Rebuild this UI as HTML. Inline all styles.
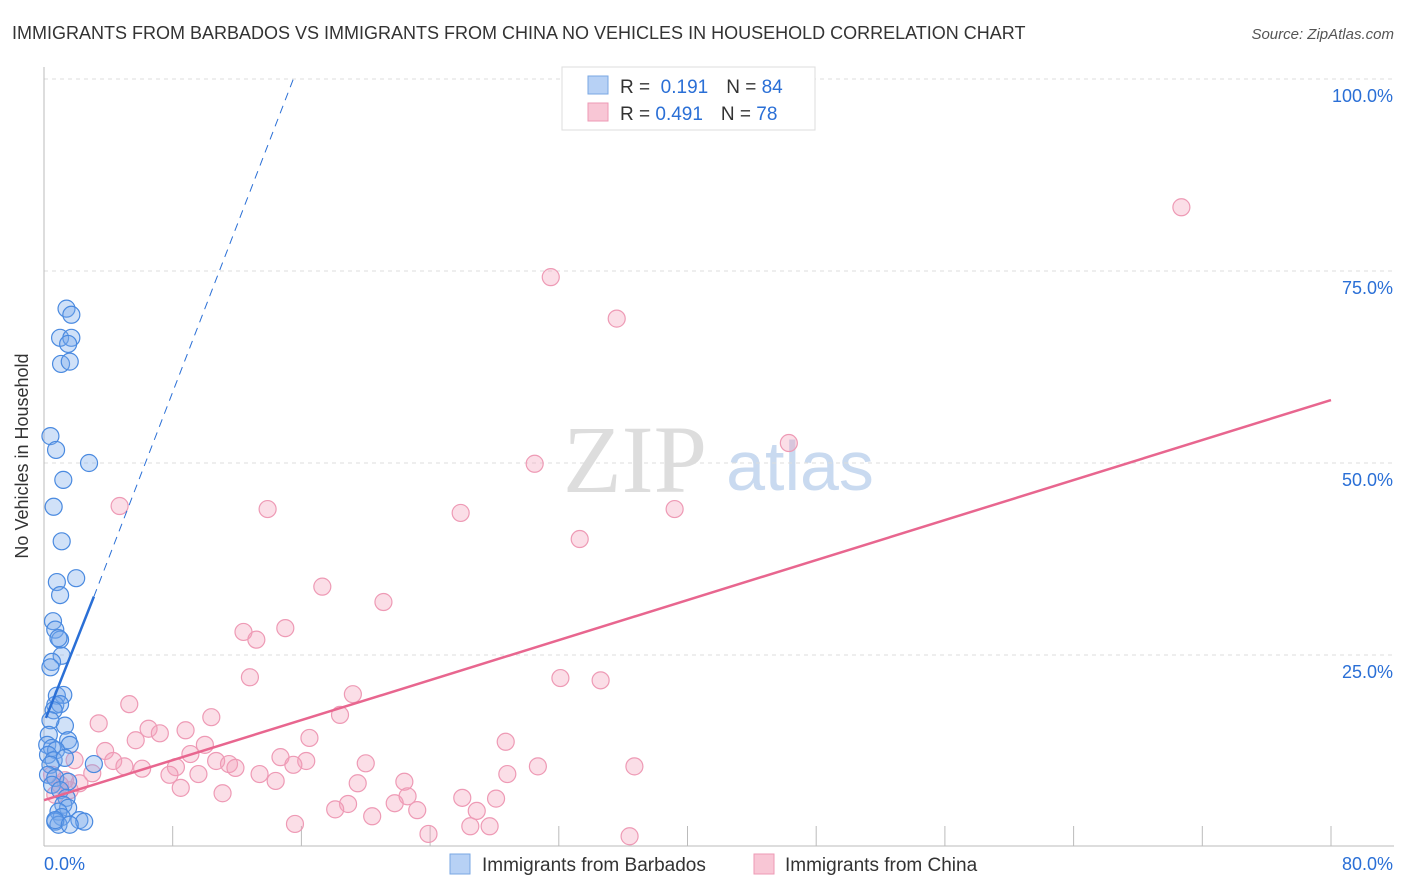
<!DOCTYPE html>
<html><head><meta charset="utf-8"><style>
body{margin:0;background:#fff;font-family:"Liberation Sans",sans-serif;}
svg{display:block}
</style></head><body>
<svg id="chart" width="1406" height="892" xmlns="http://www.w3.org/2000/svg">
<text x="12" y="39" font-size="18" fill="#333">IMMIGRANTS FROM BARBADOS VS IMMIGRANTS FROM CHINA NO VEHICLES IN HOUSEHOLD CORRELATION CHART</text>
<text x="1394" y="39" font-size="15" fill="#555" font-style="italic" text-anchor="end">Source: ZipAtlas.com</text>
<text x="28" y="456" font-size="18" fill="#333" text-anchor="middle" transform="rotate(-90 28 456)">No Vehicles in Household</text>
<g>
<text x="635" y="492" font-size="96" fill="#ddd" font-family="Liberation Serif" text-anchor="middle">ZIP</text>
<text x="800" y="490" font-size="70" fill="#c9daf0" text-anchor="middle">atlas</text>
</g>
<g id="grid"></g><g id="axes"></g><g id="pts"></g><g id="lines"></g>
<g>
<rect x="562" y="67" width="253" height="63" fill="#fff" stroke="#ddd"/>
<rect x="588" y="76" width="20" height="18" fill="#b7d1f5" stroke="#7aa7e3"/>
<rect x="588" y="103" width="20" height="18" fill="#f8c6d5" stroke="#ee9ab5"/>
<text x="620" y="93" font-size="19" fill="#333">R = <tspan fill="#2a6fd6">&#160;0.191</tspan><tspan dx="18">N = </tspan><tspan fill="#2a6fd6">84</tspan></text>
<text x="620" y="120" font-size="19" fill="#333">R = <tspan fill="#2a6fd6">0.491</tspan><tspan dx="18">N = </tspan><tspan fill="#2a6fd6">78</tspan></text>
</g>
<g>
<rect x="450" y="854" width="20" height="20" fill="#b7d1f5" stroke="#7aa7e3"/>
<text x="482" y="871" font-size="19" fill="#333">Immigrants from Barbados</text>
<rect x="754" y="854" width="20" height="20" fill="#f8c6d5" stroke="#ee9ab5"/>
<text x="785" y="871" font-size="19" fill="#333">Immigrants from China</text>
</g>
</svg>
<script>
const yTicks=[25,50,75,100];
const yTickLabels=["25.0%","50.0%","75.0%","100.0%"];
const xTicks=[8,16,24,32,40,48,56,64,72,80];
const barbadosX=[1.4,1.7,1.0,1.7,1.5,1.06,1.6,0.4,0.75,2.8,1.2,0.6,1.1,0.8,2.0,1.0,0.56,0.7,1.0,0.9,1.1,0.5,0.4,0.8,1.2,0.7,1.0,0.6,1.3,0.4,0.3,1.5,1.6,0.2,0.5,0.75,0.25,0.6,1.3,3.1,0.4,0.25,0.7,1.5,0.5,1.0,1.4,1.2,1.5,0.9,1.1,0.7,0.9,2.2,2.5,0.7,1.6];
const barbadosY=[70.1,69.3,66.3,66.3,65.5,62.9,63.2,53.5,51.7,50.0,47.8,44.3,39.8,34.5,35.0,32.8,29.4,28.3,27.0,27.2,24.9,24.1,23.4,19.7,19.8,18.5,18.6,17.8,15.8,16.5,14.6,13.9,13.3,13.3,12.9,12.6,12.0,11.3,11.6,10.8,10.7,9.4,9.0,8.5,8.1,7.4,6.4,5.5,5.1,4.6,3.9,3.3,2.9,3.5,3.3,3.5,2.9];
const chinaX=[70.7,31.5,35.6,46.3,30.5,39.2,25.9,33.3,13.9,4.7,17.3,21.1,15.0,12.4,13.2,12.8,32.1,34.6,19.2,5.3,18.4,10.4,3.4,6.5,7.2,8.8,5.7,16.5,28.7,10.0,3.8,9.1,14.7,20.0,4.3,16.3,10.7,11.5,11.9,15.5,8.2,5.0,6.1,30.7,36.7,7.8,13.4,9.6,3.0,28.8,19.5,22.4,14.4,8.5,2.2,11.1,22.6,26.0,28.1,18.9,21.8,18.1,23.2,26.9,20.4,15.6,26.5,27.7,23.9,36.4,0.5,1.0,1.6,0.7,1.3,1.9];
const chinaY=[83.3,74.2,68.8,52.6,49.9,44.0,43.5,40.1,44.0,44.4,33.9,31.9,28.5,28.0,27.0,22.1,22.0,21.7,19.9,18.6,17.2,16.9,16.1,15.4,14.8,15.2,13.9,14.2,13.7,13.3,12.5,12.1,11.7,10.9,11.2,11.2,11.2,10.8,10.3,10.7,10.4,10.5,10.2,10.5,10.5,9.4,9.5,9.5,9.6,9.5,8.3,8.5,8.6,7.7,8.3,7.0,6.6,6.4,6.3,5.6,5.7,4.9,4.8,4.7,4.0,3.0,2.7,2.7,1.7,1.4,9.4,8.1,7.4,6.8,8.7,11.3];
const barbadosTrend=[[0.12,16.8],[3.1,32.6]];
const barbadosTrendExt=[[3.1,32.6],[15.5,100]];
const chinaTrend=[[0,6.1],[80,58.2]];
const X0=44,X1=1331,Y0=847,Y1=79;
const sx=v=>X0+(v/80)*(X1-X0);
const sy=v=>Y0-(v/100)*(Y0-Y1);
const NS="http://www.w3.org/2000/svg";
function mk(tag,attrs,parent){const e=document.createElementNS(NS,tag);for(const k in attrs)e.setAttribute(k,attrs[k]);parent.appendChild(e);return e;}
const grid=document.getElementById('grid'),axes=document.getElementById('axes'),pts=document.getElementById('pts'),lines=document.getElementById('lines');
yTicks.forEach((t,i)=>{
 const l=mk('line',{x1:X0,x2:1394,y1:sy(t),y2:sy(t),stroke:'#ddd','stroke-dasharray':'4,4'},grid);
 
 
 const tx=mk('text',{x:1393,y:sy(t)+23,'font-size':18,fill:'#2a6fd6','text-anchor':'end'},axes);
 tx.textContent=yTickLabels[i];
 
 
});
const ya=mk('line',{x1:X0,x2:X0,y1:67,y2:846,stroke:'#bbb'},axes);


const xa=mk('line',{x1:X0,x2:1394,y1:846,y2:846,stroke:'#bbb'},axes);


xTicks.forEach(t=>{
 const l=mk('line',{x1:sx(t),x2:sx(t),y1:826,y2:846,stroke:'#bbb'},axes);
 
 
});
const xl0=mk('text',{x:44,y:870,'font-size':18,fill:'#2a6fd6'},axes);xl0.textContent='0.0%';


const xl1=mk('text',{x:1393,y:870,'font-size':18,fill:'#2a6fd6','text-anchor':'end'},axes);xl1.textContent='80.0%';


chinaX.forEach((x,i)=>{
 const c=mk('circle',{cx:sx(x),cy:sy(chinaY[i]),r:8.5,fill:'rgba(244,160,187,0.35)',stroke:'#ee9ab5','stroke-width':1.2},pts);
 
 
});
barbadosX.forEach((x,i)=>{
 const c=mk('circle',{cx:sx(x),cy:sy(barbadosY[i]),r:8.5,fill:'rgba(120,170,235,0.35)',stroke:'#4a8ae0','stroke-width':1.2},pts);
 
 
});
const t1=mk('line',{x1:sx(chinaTrend[0][0]),y1:sy(chinaTrend[0][1]),x2:sx(chinaTrend[1][0]),y2:sy(chinaTrend[1][1]),stroke:'#e8668f','stroke-width':2.5},lines);


const t2=mk('line',{x1:sx(barbadosTrend[0][0]),y1:sy(barbadosTrend[0][1]),x2:sx(barbadosTrend[1][0]),y2:sy(barbadosTrend[1][1]),stroke:'#2a6fd6','stroke-width':2.5},lines);


const t3=mk('line',{x1:sx(barbadosTrendExt[0][0]),y1:sy(barbadosTrendExt[0][1]),x2:sx(barbadosTrendExt[1][0]),y2:sy(barbadosTrendExt[1][1]),stroke:'#2a6fd6','stroke-width':1,'stroke-dasharray':'8,6'},lines);


</script>
</body></html>
